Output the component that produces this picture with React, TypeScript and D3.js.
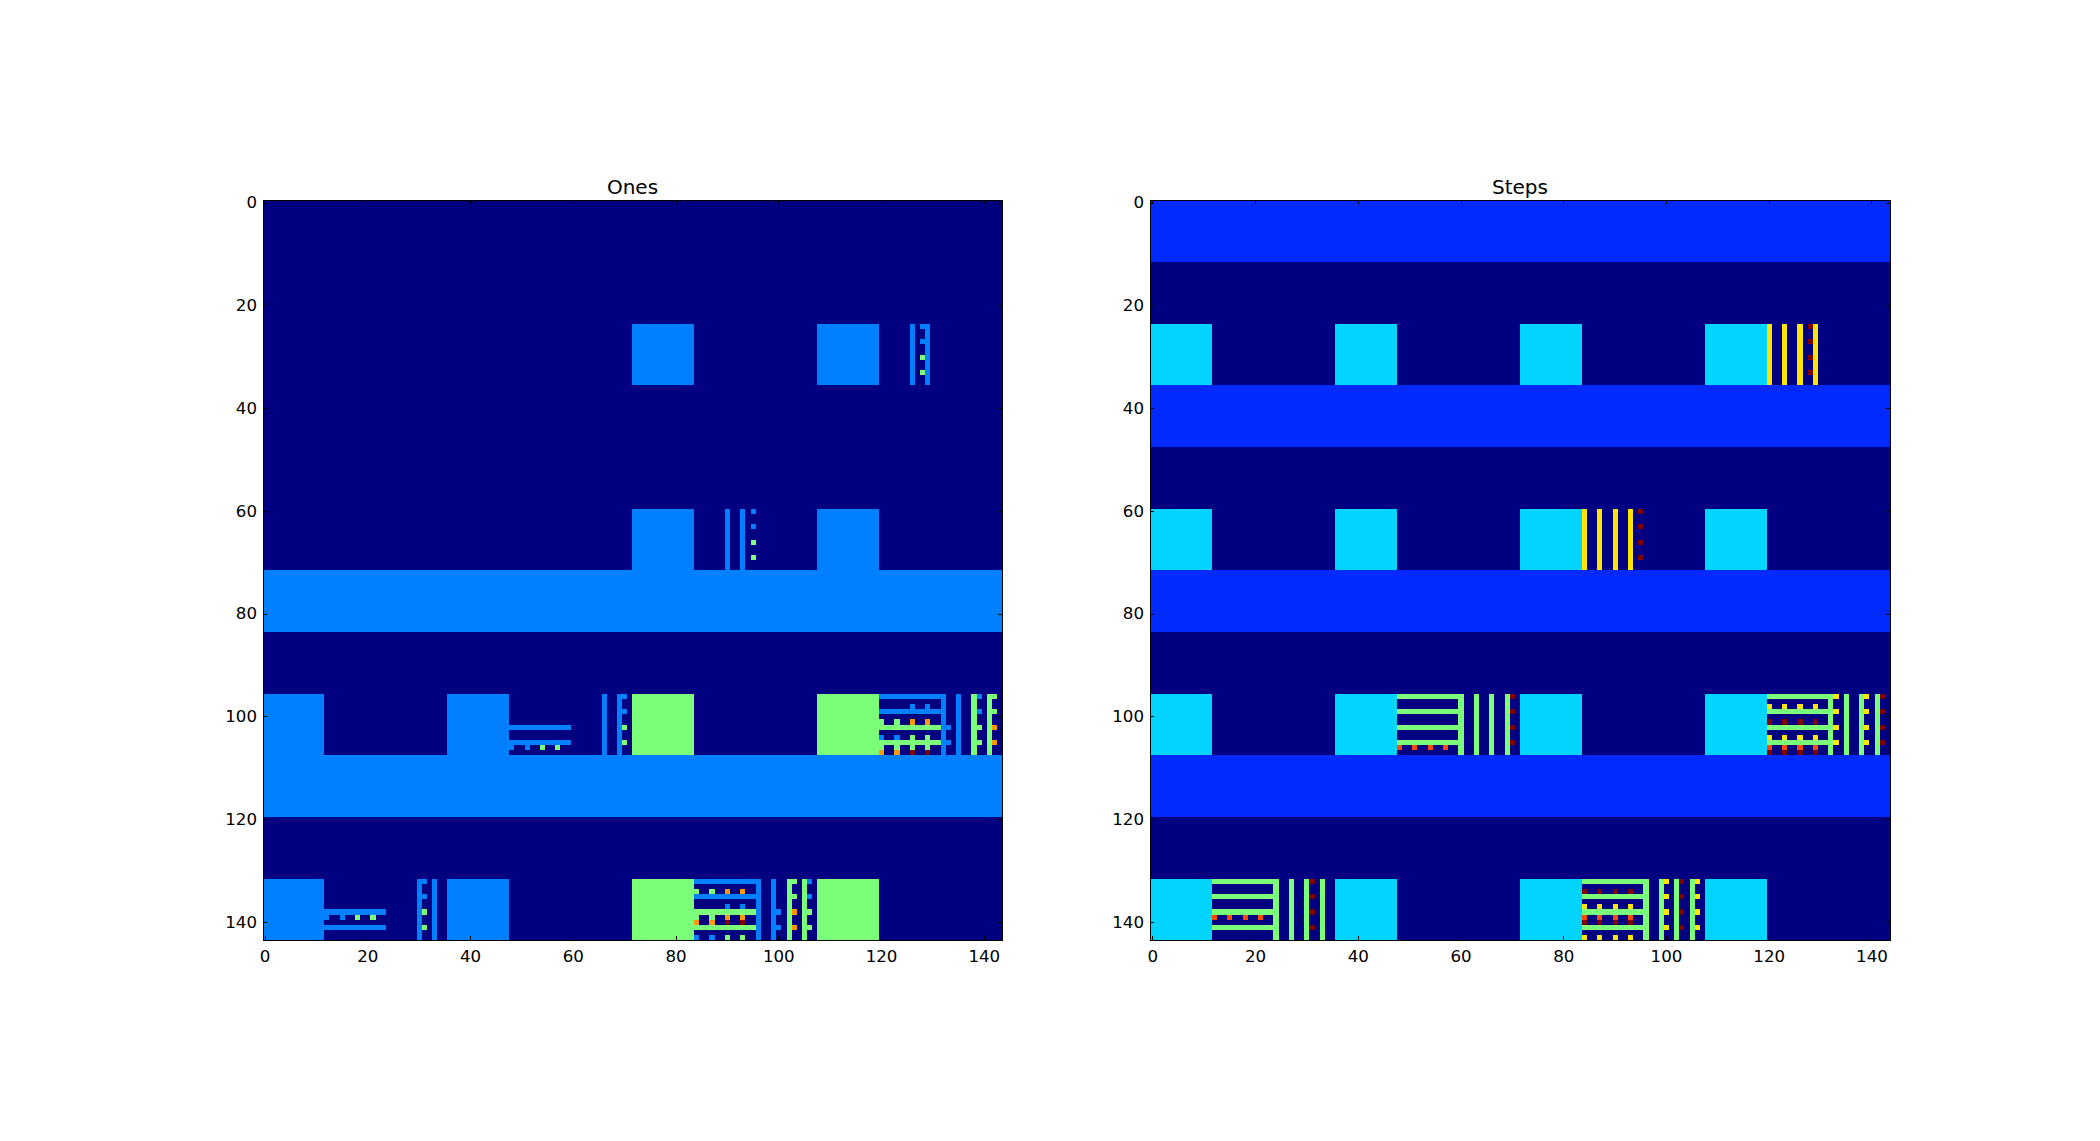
import React from "react";
import * as d3 from "d3";

// ---- data: 144×144 matrices as [row/col, ..., value] ----
const SIZE = 144;
const BLOCK = 12;
const tickValues = [0, 20, 40, 60, 80, 100, 120, 140];

// full-width bands: [firstRow, value]
const onesBands = [[72, 1], [108, 1]];
// 12×12 blocks: [firstRow, firstCol, value]
const onesBlocks = [
  [24, 72, 1], [24, 108, 1], [60, 72, 1], [60, 108, 1],
  [96, 0, 1], [96, 36, 1], [96, 72, 2], [96, 108, 2],
  [132, 0, 1], [132, 36, 1], [132, 72, 2], [132, 108, 2],
];
// horizontal lines: [row, colStart, colEnd, value]
const onesHLines = [
  [102, 48, 60, 1], [105, 48, 60, 1], [138, 12, 24, 1], [141, 12, 24, 1],
  [96, 120, 132, 1], [99, 120, 132, 1], [102, 120, 132, 2], [105, 120, 132, 2],
  [132, 84, 96, 1], [135, 84, 96, 1], [138, 84, 96, 2], [141, 84, 96, 2],
];
// vertical lines, 12 cells tall: [col, firstRow, value]
const onesVLines = [
  [126, 24, 1], [129, 24, 1], [90, 60, 1], [93, 60, 1], [66, 96, 1], [69, 96, 1],
  [132, 96, 1], [135, 96, 1], [138, 96, 2], [141, 96, 2],
  [30, 132, 1], [33, 132, 1], [96, 132, 1], [99, 132, 1], [102, 132, 2], [105, 132, 2],
];
// single cells: [row, col, value]
const onesDots = [
  [24, 128, 1], [27, 128, 1], [30, 128, 2], [33, 128, 2],
  [60, 95, 1], [63, 95, 1], [66, 95, 2], [69, 95, 2],
  [96, 70, 1], [99, 70, 1], [102, 70, 2], [105, 70, 2],
  [132, 31, 1], [135, 31, 1], [138, 31, 2], [141, 31, 2],
  [102, 133, 1], [105, 133, 1], [138, 100, 1], [141, 100, 1],
  [96, 139, 1], [99, 139, 1], [102, 139, 2], [105, 139, 2],
  [96, 142, 2], [99, 142, 2], [102, 142, 3], [105, 142, 3],
  [132, 103, 2], [135, 103, 2], [138, 103, 3], [141, 103, 3],
  [132, 106, 1], [135, 106, 1], [138, 106, 2], [141, 106, 2],
  [106, 48, 1], [106, 51, 1], [106, 54, 2], [106, 57, 2],
  [139, 12, 1], [139, 15, 1], [139, 18, 2], [139, 21, 2],
  [98, 126, 1], [98, 129, 1],
  [101, 120, 2], [101, 123, 2], [101, 126, 3], [101, 129, 3],
  [104, 120, 1], [104, 123, 1], [104, 126, 2], [104, 129, 2],
  [106, 120, 2], [106, 123, 2], [106, 126, 2], [106, 129, 2],
  [107, 120, 3], [107, 123, 3], [107, 126, 4], [107, 129, 4],
  [134, 84, 2], [134, 87, 2], [134, 90, 3], [134, 93, 3],
  [137, 90, 1], [137, 93, 1],
  [139, 84, 2], [139, 87, 2], [139, 90, 3], [139, 93, 3],
  [140, 84, 3], [140, 87, 3], [140, 90, 4], [140, 93, 4],
  [143, 84, 1], [143, 87, 1], [143, 90, 2], [143, 93, 2],
];

const stepsBands = [[0, 1], [36, 1], [72, 1], [108, 1]];
const stepsBlocks = [
  [24, 0, 2], [24, 36, 2], [24, 72, 2], [24, 108, 2],
  [60, 0, 2], [60, 36, 2], [60, 72, 2], [60, 108, 2],
  [96, 0, 2], [96, 36, 2], [96, 72, 2], [96, 108, 2],
  [132, 0, 2], [132, 36, 2], [132, 72, 2], [132, 108, 2],
];
const stepsHLines = [
  [96, 48, 60, 3], [99, 48, 60, 3], [102, 48, 60, 3], [105, 48, 60, 3],
  [96, 120, 132, 3], [99, 120, 132, 3], [102, 120, 132, 3], [105, 120, 132, 3],
  [132, 12, 24, 3], [135, 12, 24, 3], [138, 12, 24, 3], [141, 12, 24, 3],
  [132, 84, 96, 3], [135, 84, 96, 3], [138, 84, 96, 3], [141, 84, 96, 3],
];
const stepsVLines = [
  [120, 24, 4], [123, 24, 4], [126, 24, 4], [129, 24, 4],
  [84, 60, 4], [87, 60, 4], [90, 60, 4], [93, 60, 4],
  [60, 96, 3], [63, 96, 3], [66, 96, 3], [69, 96, 3],
  [132, 96, 3], [135, 96, 3], [138, 96, 3], [141, 96, 3],
  [24, 132, 3], [27, 132, 3], [30, 132, 3], [33, 132, 3],
  [96, 132, 3], [99, 132, 3], [102, 132, 3], [105, 132, 3],
];
const stepsDots = [
  [24, 128, 6], [27, 128, 6], [30, 128, 6], [33, 128, 6],
  [60, 95, 6], [63, 95, 6], [66, 95, 6], [69, 95, 6],
  [96, 70, 6], [99, 70, 6], [102, 70, 6], [105, 70, 6],
  [96, 142, 6], [99, 142, 6], [102, 142, 6], [105, 142, 6],
  [132, 31, 6], [135, 31, 6], [138, 31, 6], [141, 31, 6],
  [132, 103, 6], [135, 103, 6], [138, 103, 6], [141, 103, 6],
  [96, 133, 4], [99, 133, 4], [102, 133, 4], [105, 133, 4],
  [96, 139, 4], [99, 139, 4], [102, 139, 4], [105, 139, 4],
  [132, 100, 4], [135, 100, 4], [138, 100, 4], [141, 100, 4],
  [132, 106, 4], [135, 106, 4], [138, 106, 4], [141, 106, 4],
  [106, 48, 5], [106, 51, 5], [106, 54, 5], [106, 57, 5],
  [139, 12, 5], [139, 15, 5], [139, 18, 5], [139, 21, 5],
  [98, 120, 4], [98, 123, 4], [98, 126, 4], [98, 129, 4],
  [101, 120, 6], [101, 123, 6], [101, 126, 6], [101, 129, 6],
  [104, 120, 4], [104, 123, 4], [104, 126, 4], [104, 129, 4],
  [106, 120, 5], [106, 123, 5], [106, 126, 5], [106, 129, 5],
  [107, 120, 6], [107, 123, 6], [107, 126, 6], [107, 129, 6],
  [134, 84, 6], [134, 87, 6], [134, 90, 6], [134, 93, 6],
  [137, 84, 4], [137, 87, 4], [137, 90, 4], [137, 93, 4],
  [139, 84, 5], [139, 87, 5], [139, 90, 5], [139, 93, 5],
  [140, 84, 6], [140, 87, 6], [140, 90, 6], [140, 93, 6],
  [143, 84, 4], [143, 87, 4], [143, 90, 4], [143, 93, 4],
];

// matplotlib "jet" colour map stops
const jetR = d3.scaleLinear([0, 0.35, 0.66, 0.89, 1], [0, 0, 1, 1, 0.5]);
const jetG = d3.scaleLinear([0, 0.125, 0.375, 0.64, 0.91, 1], [0, 0, 1, 1, 0, 0]);
const jetB = d3.scaleLinear([0, 0.11, 0.34, 0.65, 1], [0.5, 1, 1, 0, 0]);
const jet = (t: number) =>
  d3.rgb(jetR(t) * 255, jetG(t) * 255, jetB(t) * 255).formatHex();

function buildMatrix(bands: number[][], blocks: number[][], h: number[][], v: number[][], dots: number[][]) {
  const m: number[][] = d3.range(SIZE).map(() => d3.range(SIZE).map(() => 0));
  const fill = (r0: number, r1: number, c0: number, c1: number, val: number) => {
    for (let r = r0; r < r1; r++) for (let c = c0; c < c1; c++) m[r][c] = val;
  };
  bands.forEach(([r, val]) => fill(r, r + BLOCK, 0, SIZE, val));
  blocks.forEach(([r, c, val]) => fill(r, r + BLOCK, c, c + BLOCK, val));
  h.forEach(([r, c0, c1, val]) => fill(r, r + 1, c0, c1, val));
  v.forEach(([c, r, val]) => fill(r, r + BLOCK, c, c + 1, val));
  dots.forEach(([r, c, val]) => fill(r, r + 1, c, c + 1, val));
  return m;
}

const WIDTH = 2100;
const HEIGHT = 1141;
const AX_SIZE = 739.77;
const AX_TOP = 200.5;
const FONT = "'DejaVu Sans', sans-serif";

function Panel({ title, left, matrix, vmax }: { title: string; left: number; matrix: number[][]; vmax: number }) {
  const x = d3.scaleLinear([-0.5, SIZE - 0.5], [left, left + AX_SIZE]);
  const y = d3.scaleLinear([-0.5, SIZE - 0.5], [AX_TOP, AX_TOP + AX_SIZE]);
  const color = d3.scaleLinear([0, vmax], [0, 1]);

  const runs: { r: number; c0: number; c1: number; v: number }[] = [];
  matrix.forEach((row, r) => {
    let c0 = 0;
    for (let c = 1; c <= SIZE; c++) {
      if (c === SIZE || row[c] !== row[c0]) {
        runs.push({ r, c0, c1: c, v: row[c0] });
        c0 = c;
      }
    }
  });

  const L = Math.round(x(-0.5));
  const R = Math.round(x(SIZE - 0.5));
  const T = Math.floor(y(-0.5));
  const B = Math.round(y(SIZE - 0.5));
  const TICK = 4;

  return (
    <g>
      <g shapeRendering="crispEdges">
        {runs.map((d, i) => {
          const x0 = Math.round(x(d.c0 - 0.5));
          const x1 = Math.round(x(d.c1 - 0.5));
          const y0 = d.r === 0 ? T : Math.round(y(d.r - 0.5));
          const y1 = Math.round(y(d.r + 0.5));
          return <rect key={i} x={x0} y={y0} width={x1 - x0} height={y1 - y0} fill={jet(color(d.v))} />;
        })}
      </g>
      <g stroke="#000" strokeWidth={1} shapeRendering="crispEdges">
        {tickValues.map((t) => (
          <g key={t}>
            <line x1={x(t)} x2={x(t)} y1={B} y2={B - TICK} />
            <line x1={x(t)} x2={x(t)} y1={T} y2={T + TICK} />
            <line x1={L} x2={L + TICK} y1={y(t)} y2={y(t)} />
            <line x1={R} x2={R - TICK} y1={y(t)} y2={y(t)} />
          </g>
        ))}
        <rect x={L} y={T} width={R - L} height={B - T} fill="none" />
      </g>
      <g fontFamily={FONT} fontSize={16.67} fill="#000">
        {tickValues.map((t) => (
          <text key={t} x={x(t)} y={B + 22} textAnchor="middle">{t}</text>
        ))}
        {tickValues.map((t) => (
          <text key={t} x={L - 6} y={y(t) + 5.3} textAnchor="end">{t}</text>
        ))}
      </g>
      <text x={(L + R) / 2} y={T - 6} textAnchor="middle" fontFamily={FONT} fontSize={20} fill="#000">{title}</text>
    </g>
  );
}

export default function App() {
  const ones = buildMatrix(onesBands, onesBlocks, onesHLines, onesVLines, onesDots);
  const steps = buildMatrix(stepsBands, stepsBlocks, stepsHLines, stepsVLines, stepsDots);
  return (
    <svg
      width={WIDTH}
      height={HEIGHT}
      viewBox={`0 0 ${WIDTH} ${HEIGHT}`}
      style={{ position: "absolute", left: 0, top: 0, background: "#fff", display: "block" }}
    >
      <Panel title="Ones" left={262.5} matrix={ones} vmax={4} />
      <Panel title="Steps" left={1150.2} matrix={steps} vmax={6} />
    </svg>
  );
}
